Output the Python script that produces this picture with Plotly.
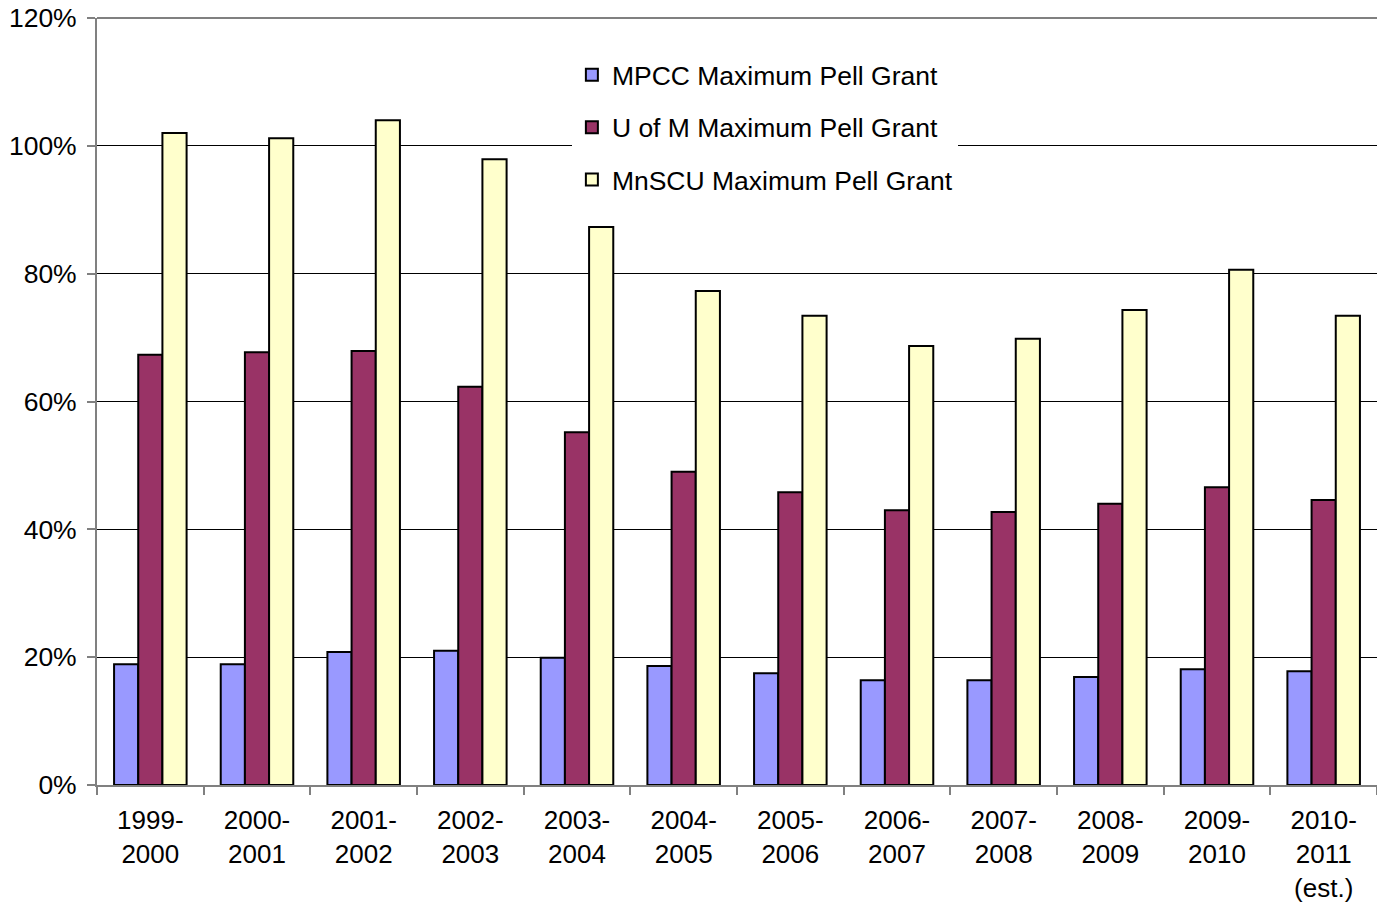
import plotly.graph_objects as go

categories = ["1999-<br>2000", "2000-<br>2001", "2001-<br>2002", "2002-<br>2003", "2003-<br>2004",
              "2004-<br>2005", "2005-<br>2006", "2006-<br>2007", "2007-<br>2008", "2008-<br>2009",
              "2009-<br>2010", "2010-<br>2011<br>(est.)"]
mpcc = [18.9, 18.9, 20.8, 21.0, 19.9, 18.6, 17.5, 16.4, 16.4, 16.9, 18.1, 17.8]
uofm = [67.3, 67.7, 67.9, 62.3, 55.2, 49.0, 45.8, 43.0, 42.7, 44.0, 46.6, 44.6]
mnscu = [102.0, 101.2, 104.0, 97.9, 87.3, 77.3, 73.4, 68.7, 69.8, 74.3, 80.6, 73.4]
series_names = ["MPCC Maximum Pell Grant", "U of M Maximum Pell Grant", "MnSCU Maximum Pell Grant"]
colors = ["#9999FF", "#993366", "#FFFFCC"]
y_ticks = [0, 20, 40, 60, 80, 100, 120]

FONT = "Liberation Sans, Arial, sans-serif"
fig = go.Figure()
for name, vals, col in zip(series_names, [mpcc, uofm, mnscu], colors):
    fig.add_trace(go.Bar(x=categories, y=vals, name=name, legendgroup=name,
                         marker=dict(color=col, line=dict(color="black", width=2))))

fig.update_layout(
    width=1377, height=906,
    margin=dict(l=97, r=0, t=18, b=121),
    paper_bgcolor="white", plot_bgcolor="white",
    barmode="group", bargap=0.32, bargroupgap=0,
    font=dict(family=FONT, size=26, color="black"),
    showlegend=True,
    legend=dict(x=0.371, y=0.957, xanchor="left", yanchor="top", bgcolor="white",
                font=dict(size=26.5), tracegroupgap=15, traceorder="grouped",
                itemsizing="constant"),
    xaxis=dict(showline=True, linecolor="#808080", linewidth=2, ticks="outside",
               tickson="boundaries", ticklen=8, tickcolor="#808080", tickwidth=2,
               tickfont=dict(size=26), showgrid=False, automargin=False,
               ticklabelstandoff=11, ticklabeloverflow="allow"),
    yaxis=dict(range=[0, 120], tickvals=y_ticks, ticktext=[f"{v}%" for v in y_ticks],
               showline=True, linecolor="#808080", linewidth=2, ticks="outside",
               ticklen=8, tickcolor="#808080", tickwidth=2, tickfont=dict(size=26.5),
               showgrid=True, gridcolor="black", gridwidth=1, zeroline=False,
               automargin=False, ticklabelstandoff=5, ticklabeloverflow="allow"),
)
fig.add_shape(type="line", xref="paper", yref="paper", x0=0, x1=1, y0=1, y1=1,
              line=dict(color="#808080", width=2))
fig.write_html("out.html", config={"displayModeBar": False},
               post_script="document.body.style.margin='0';document.body.style.overflow='hidden';")
